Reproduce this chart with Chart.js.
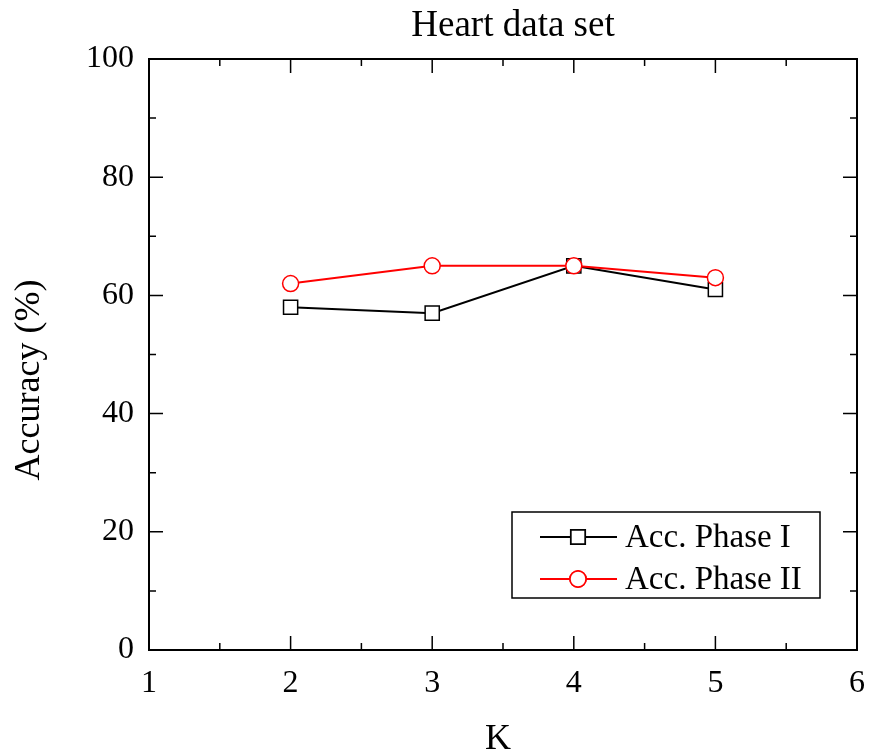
<!DOCTYPE html>
<html>
<head>
<meta charset="utf-8">
<script src="https://cdn.jsdelivr.net/npm/chart.js@4/dist/chart.umd.min.js"></script>
<style>
  body { margin: 0; background: #fff; }
  canvas { display: block; }
</style>
</head>
<body>
<canvas id="chart" width="870" height="754"></canvas>
<script>
const chartTitle = 'Heart data set';
const xTitle = 'K';
const yTitle = 'Accuracy (%)';
const kValues = [2, 3, 4, 5];
const phase1 = [58, 57, 65, 61];
const phase2 = [62, 65, 65, 63];
const seriesLabels = ['Acc. Phase I', 'Acc. Phase II'];
const xTicks = [1, 2, 3, 4, 5, 6];
const yTicks = [0, 20, 40, 60, 80, 100];

const serif = '"Liberation Serif", "Times New Roman", serif';

function toPoints(vals) {
  return kValues.map((k, i) => ({ x: k, y: vals[i] }));
}

// frame, inward ticks on all four sides, title, axis titles, legend
const decorPlugin = {
  id: 'decor',
  afterDraw(chart) {
    const ctx = chart.ctx;
    const a = chart.chartArea;
    const xs = chart.scales.x;
    const ys = chart.scales.y;
    ctx.save();
    ctx.strokeStyle = '#000';
    ctx.lineWidth = 2;
    ctx.strokeRect(a.left, a.top, a.right - a.left, a.bottom - a.top);

    const major = 14, minor = 7;
    ctx.lineWidth = 1.5;
    ctx.beginPath();
    xTicks.forEach((v, i) => {
      const px = xs.getPixelForValue(v);
      ctx.moveTo(px, a.bottom); ctx.lineTo(px, a.bottom - major);
      ctx.moveTo(px, a.top); ctx.lineTo(px, a.top + major);
      if (i < xTicks.length - 1) {
        const mx = xs.getPixelForValue((v + xTicks[i + 1]) / 2);
        ctx.moveTo(mx, a.bottom); ctx.lineTo(mx, a.bottom - minor);
        ctx.moveTo(mx, a.top); ctx.lineTo(mx, a.top + minor);
      }
    });
    yTicks.forEach((v, i) => {
      const py = ys.getPixelForValue(v);
      ctx.moveTo(a.left, py); ctx.lineTo(a.left + major, py);
      ctx.moveTo(a.right, py); ctx.lineTo(a.right - major, py);
      if (i < yTicks.length - 1) {
        const my = ys.getPixelForValue((v + yTicks[i + 1]) / 2);
        ctx.moveTo(a.left, my); ctx.lineTo(a.left + minor, my);
        ctx.moveTo(a.right, my); ctx.lineTo(a.right - minor, my);
      }
    });
    ctx.stroke();

    // titles
    ctx.fillStyle = '#000';
    ctx.textAlign = 'center';
    ctx.textBaseline = 'middle';
    ctx.font = '37px ' + serif;
    ctx.fillText(chartTitle, 513, 26);
    ctx.font = '36px ' + serif;
    ctx.fillText(xTitle, 498, 740);
    ctx.save();
    ctx.translate(30, 380);
    ctx.rotate(-Math.PI / 2);
    ctx.fillText(yTitle, 0, 0);
    ctx.restore();

    // legend
    ctx.lineWidth = 1.5;
    ctx.strokeRect(512, 512, 308, 86);
    const rows = [537, 579];
    chart.data.datasets.forEach((ds, i) => {
      const y = rows[i];
      ctx.strokeStyle = ds.borderColor;
      ctx.lineWidth = ds.borderWidth;
      ctx.beginPath();
      ctx.moveTo(540, y); ctx.lineTo(617, y);
      ctx.stroke();
      Chart.helpers.drawPoint(ctx, {
        pointStyle: ds.pointStyle,
        radius: ds.pointRadius,
        borderWidth: ds.pointBorderWidth,
        rotation: 0
      }, 578, y);
      ctx.fillStyle = '#fff';
      ctx.fill();
      ctx.strokeStyle = ds.borderColor;
      ctx.lineWidth = ds.pointBorderWidth;
      ctx.stroke();
      ctx.fillStyle = '#000';
      ctx.textAlign = 'left';
      ctx.font = '33px ' + serif;
      ctx.fillText(ds.label, 625, y + 1);
    });
    ctx.restore();
  }
};

new Chart(document.getElementById('chart'), {
  type: 'line',
  data: {
    datasets: [
      {
        label: seriesLabels[0],
        data: toPoints(phase1),
        borderColor: '#000',
        borderWidth: 2,
        pointStyle: 'rect',
        pointRadius: 10,
        pointBorderWidth: 1.5,
        pointBackgroundColor: '#fff',
        pointBorderColor: '#000',
        order: 2
      },
      {
        label: seriesLabels[1],
        data: toPoints(phase2),
        borderColor: '#ff0000',
        borderWidth: 2,
        pointStyle: 'circle',
        pointRadius: 8,
        pointBorderWidth: 1.5,
        pointBackgroundColor: '#fff',
        pointBorderColor: '#ff0000',
        order: 1
      }
    ]
  },
  options: {
    responsive: false,
    animation: false,
    layout: { padding: { top: 59, right: 13, left: 0, bottom: 0 } },
    plugins: {
      legend: { display: false },
      title: { display: false },
      tooltip: { enabled: false }
    },
    scales: {
      x: {
        type: 'linear',
        min: 1,
        max: 6,
        afterFit: s => { s.height = 104; s.paddingLeft = 0; s.paddingRight = 0; },
        afterBuildTicks: s => { s.ticks = xTicks.map(v => ({ value: v })); },
        grid: { display: false, drawTicks: false },
        border: { display: false },
        ticks: { color: '#000', padding: 14, font: { family: serif, size: 32 } }
      },
      y: {
        min: 0,
        max: 100,
        afterFit: s => { s.width = 149; s.paddingTop = 0; s.paddingBottom = 0; },
        afterBuildTicks: s => { s.ticks = yTicks.map(v => ({ value: v })); },
        grid: { display: false, drawTicks: false },
        border: { display: false },
        ticks: { color: '#000', padding: 15, font: { family: serif, size: 32 } }
      }
    }
  },
  plugins: [decorPlugin]
});
</script>
</body>
</html>
